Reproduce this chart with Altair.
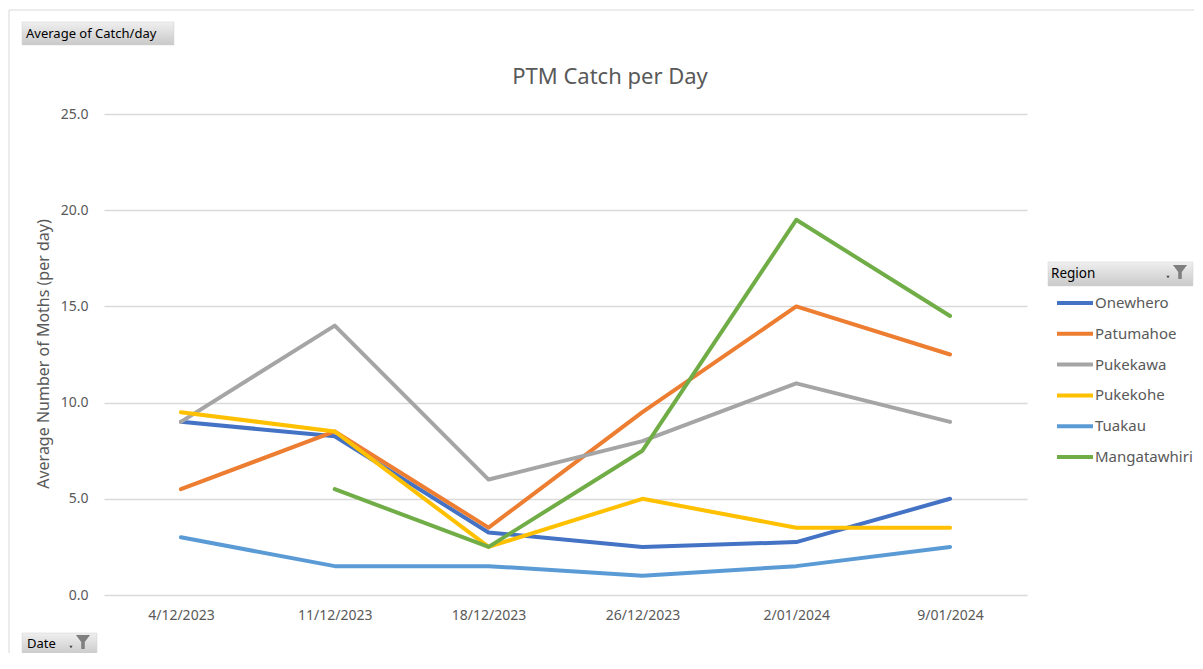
import altair as alt
import pandas as pd

# ---- data ----
dates = ["4/12/2023", "11/12/2023", "18/12/2023", "26/12/2023", "2/01/2024", "9/01/2024"]
regions = ["Onewhero", "Patumahoe", "Pukekawa", "Pukekohe", "Tuakau", "Mangatawhiri"]
onewhero = [9.0, 8.25, 3.25, 2.5, 2.75, 5.0]
patumahoe = [5.5, 8.5, 3.5, 9.5, 15.0, 12.5]
pukekawa = [9.0, 14.0, 6.0, 8.0, 11.0, 9.0]
pukekohe = [9.5, 8.5, 2.5, 5.0, 3.5, 3.5]
tuakau = [3.0, 1.5, 1.5, 1.0, 1.5, 2.5]
mangatawhiri = [None, 5.5, 2.5, 7.5, 19.5, 14.5]
colors = ["#4472C4", "#ED7D31", "#A5A5A5", "#FFC000", "#5B9BD5", "#70AD47"]
y_ticks = [0, 5, 10, 15, 20, 25]

series = [onewhero, patumahoe, pukekawa, pukekohe, tuakau, mangatawhiri]
rows = []
for reg, vals in zip(regions, series):
    for d, v in zip(dates, vals):
        if v is not None:
            rows.append({"Date": d, "Region": reg, "Value": v})
df = pd.DataFrame(rows)

FONT = "Noto Sans"
GREY_TEXT = "#595959"
one = pd.DataFrame({"k": [0]})

lines = alt.Chart(df).mark_line(strokeWidth=4, strokeCap="round", strokeJoin="round").encode(
    x=alt.X("Date:N", sort=dates, scale=alt.Scale(type="point", padding=0.5),
            axis=alt.Axis(title=None, labelAngle=0, labelFontSize=14, labelColor=GREY_TEXT,
                          labelFont=FONT, ticks=False, tickSize=0, domain=False, grid=False,
                          labelPadding=13)),
    y=alt.Y("Value:Q", scale=alt.Scale(domain=[0, 25], nice=False, zero=True),
            axis=alt.Axis(title=None, values=y_ticks, format=".1f", labelFontSize=14,
                          labelColor=GREY_TEXT, labelFont=FONT, ticks=False, tickSize=0,
                          domain=False, grid=True, gridColor="#d9d9d9", gridWidth=1.3,
                          labelPadding=16)),
    color=alt.Color("Region:N", sort=regions,
                    scale=alt.Scale(domain=regions, range=colors),
                    legend=alt.Legend(title=None, orient="none", legendX=951, legendY=179,
                                      symbolType="stroke", symbolSize=1296,
                                      symbolStrokeWidth=4, labelFontSize=15,
                                      labelFont=FONT, labelColor=GREY_TEXT, labelOffset=0,
                                      clipHeight=20, rowPadding=10.8, padding=0)),
)

grad = alt.Gradient(gradient="linear",
                    stops=[alt.GradientStop(color="#efefef", offset=0),
                           alt.GradientStop(color="#c9c9c9", offset=1)],
                    x1=0, x2=0, y1=0, y2=1)

def button(x1, x2, y1, y2):
    return alt.Chart(one).mark_rect(fill=grad, stroke="#d0d0d0", strokeWidth=0.5).encode(
        x=alt.value(x1), x2=alt.value(x2), y=alt.value(y1), y2=alt.value(y2))

def label(txt, x, y, size=13, color="#000000", angle=0, align="left"):
    return alt.Chart(one).mark_text(text=txt, font=FONT, fontSize=size, color=color,
                                    align=align, baseline="middle", angle=angle).encode(
        x=alt.value(x), y=alt.value(y))

def funnel(x, y):
    body = alt.Chart(one).mark_point(
        shape="M-1,-1 L1,-1 L0.25,0 L0.25,1 L-0.25,1 L-0.25,0 Z",
        filled=True, color="#7f7f7f", size=200, opacity=1).encode(
        x=alt.value(x), y=alt.value(y))
    arrow = alt.Chart(one).mark_point(shape="triangle-down", filled=True, color="#404040",
                                      size=10, opacity=1).encode(
        x=alt.value(x - 12), y=alt.value(y + 5))
    return body + arrow

border = alt.Chart(one).mark_rect(fill="white", fillOpacity=0, stroke="#d9d9d9",
                                  strokeWidth=1).encode(
    x=alt.value(-95), x2=alt.value(1110), y=alt.value(-104), y2=alt.value(620))

title = label("PTM Catch per Day", 506, -37, size=22, color=GREY_TEXT, align="center")
ytitle = label("Average Number of Moths (per day)", -60, 240, size=16, color=GREY_TEXT,
               angle=270, align="center")

avg_btn = button(-82, 70, -92, -69) + label("Average of Catch/day", -78, -80.5, size=13)
date_btn = button(-82, -7, 519, 541) + label("Date", -77, 530, size=13) + funnel(-21, 528)
region_btn = button(944, 1089, 148, 172) + label("Region", 947, 160, size=13.5) + funnel(1076, 158)

chart = alt.layer(
    border, avg_btn, date_btn, region_btn, title, ytitle, lines
).properties(
    width=923, height=481,
    padding={"left": 96, "top": 106, "right": 167, "bottom": 58},
    autosize=alt.AutoSizeParams(type="none"),
    background="white",
).configure_view(stroke=None)

chart.save("out.html", embed_options={"renderer": "svg", "actions": False})
